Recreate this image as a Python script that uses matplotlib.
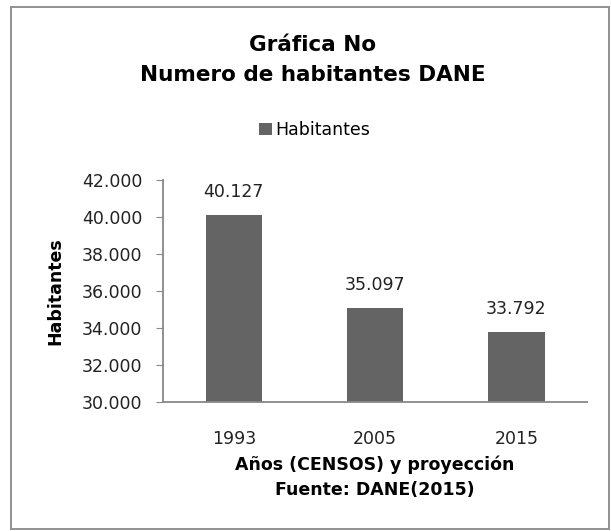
import matplotlib.pyplot as plt
from matplotlib.patches import Rectangle

years = ['1993', '2005', '2015']
habitantes = [40127, 35097, 33792]
etiquetas = ['40.127', '35.097', '33.792']
yticks = [30000, 32000, 34000, 36000, 38000, 40000, 42000]

plt.rcParams['font.family'] = ['DejaVu Sans']

fig = plt.figure(figsize=(6.11, 5.31), dpi=100)
# axes: x 163..587 px, y 180..402 px
ax = fig.add_axes([0.267, 0.243, 0.694, 0.418])

bars = ax.bar(years, habitantes, width=0.4, color='#646464', label='Habitantes')
for b, t in zip(bars, etiquetas):
    ax.text(b.get_x() + b.get_width() / 2, b.get_height() + 750, t,
            ha='center', va='bottom', fontsize=12.5, color='#222222')

ax.set_ylim(30000, 42000)
ax.set_xlim(-0.5, 2.5)
ax.set_yticks(yticks)
ax.set_yticklabels(['{:,}'.format(v).replace(',', '.') for v in yticks])
ax.tick_params(axis='y', labelsize=12.5, length=5, color='#888888', labelcolor='#222222', pad=10)
ax.tick_params(axis='x', labelsize=12.5, length=0, labelcolor='#222222', pad=20)
for s in ['top', 'right']:
    ax.spines[s].set_visible(False)
for s in ['left', 'bottom']:
    ax.spines[s].set_color('#888888')
    ax.spines[s].set_linewidth(1.3)

ax.set_ylabel('Habitantes', fontsize=12.5, fontweight='bold')
ax.yaxis.set_label_coords(-0.232, 0.5)

fig.text(0.512, 0.915, 'Gráfica No', ha='center', va='center', fontsize=15.5, fontweight='bold')
fig.text(0.512, 0.858, 'Numero de habitantes DANE', ha='center', va='center', fontsize=15.5, fontweight='bold')
fig.legend(handles=[bars], labels=['Habitantes'], loc='center', bbox_to_anchor=(0.515, 0.755),
           frameon=False, fontsize=12.5, handlelength=0.7, handleheight=0.7, handletextpad=0.2)

fig.text(0.613, 0.124, 'Años (CENSOS) y proyección', ha='center', va='center', fontsize=12.5, fontweight='bold')
fig.text(0.613, 0.077, 'Fuente: DANE(2015)', ha='center', va='center', fontsize=12.5, fontweight='bold')

fig.patches.append(Rectangle((0.018, 0.004), 0.978, 0.983, transform=fig.transFigure,
                             fill=False, edgecolor='#888888', linewidth=1.3))

fig.savefig('out.png', dpi=100)
